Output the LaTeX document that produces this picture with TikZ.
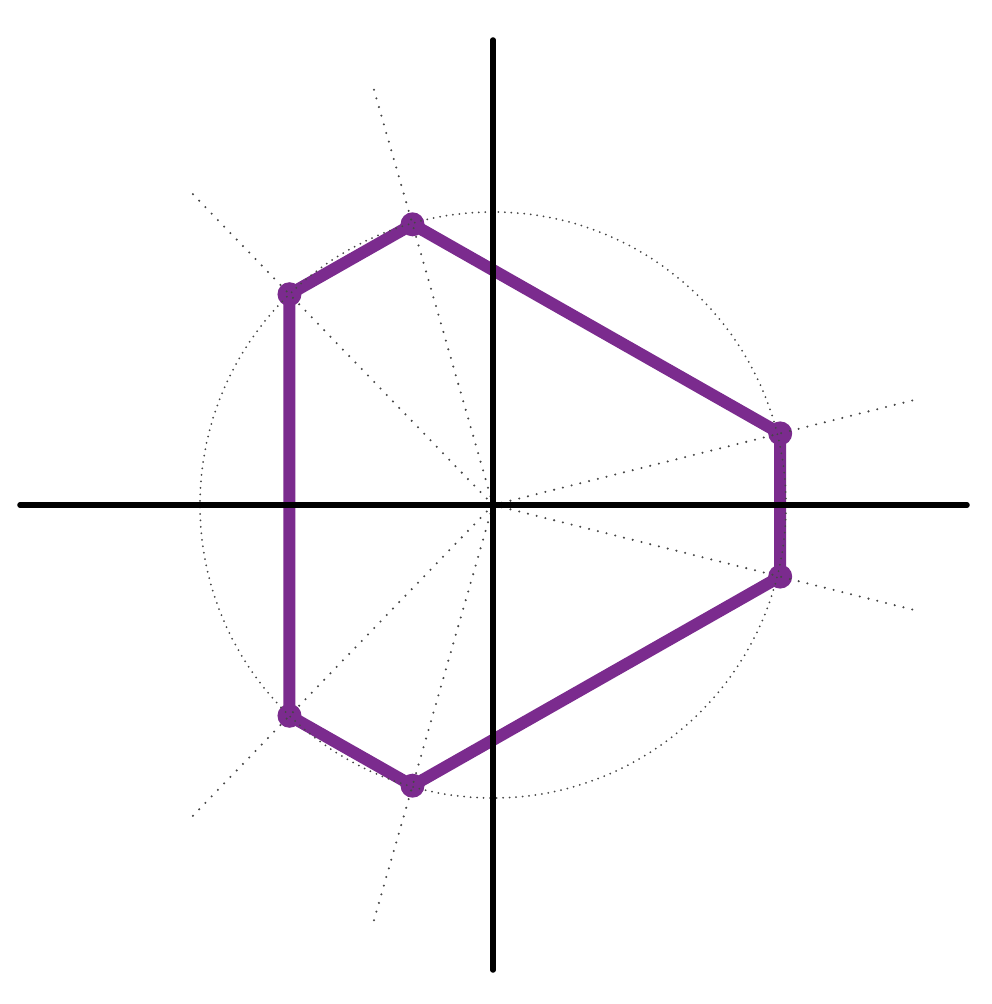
\documentclass[tikz,border=0pt]{standalone}
\usepackage{tikz}
\definecolor{hexpurple}{RGB}{123,43,142}
\definecolor{dotgray}{RGB}{70,70,70}
\tikzset{
  axisline/.style={line width=5.5pt, line cap=round, black},
  rayline/.style={line width=2.3pt, dotgray, line cap=round, dash pattern=on 0pt off 9pt},
  circline/.style={line width=2pt, dotgray, line cap=round, dash pattern=on 0pt off 6.5pt},
  hexline/.style={line width=12pt, hexpurple, line join=round},
  vertexdot/.style={circle, fill=hexpurple, inner sep=0pt, minimum size=24pt}
}
\begin{document}
\begin{tikzpicture}[x=1pt,y=1pt]
\useasboundingbox (-493,-499) rectangle (499,505);
\coordinate (O) at (0,0);
% hexagon vertices
\foreach \n/\a/\r in {v1/14/296, v2/106/292, v3/134/293, v4/226/293, v5/254/292, v6/346/296}{
  \coordinate (\n) at (\a:\r);
  \coordinate (r\n) at (\a:437);
}
\draw[hexline] (v1) -- (v2) -- (v3) -- (v4) -- (v5) -- (v6) -- cycle;
\foreach \n in {v1,v2,v3,v4,v5,v6}{
  \node[vertexdot] (d\n) at (\n) {};
}
% dotted circle
\draw[circline] (O) circle (293);
% dotted rays
\foreach \n in {v1,v2,v3,v4,v5,v6}{
  \draw[rayline] (O) -- (r\n);
}
% axes
\coordinate (xl) at (-473,0);
\coordinate (xr) at (474,0);
\coordinate (yt) at (0,465);
\coordinate (yb) at (0,-465);
\draw[axisline] (xl) -- (xr);
\draw[axisline] (yb) -- (yt);
\end{tikzpicture}
\end{document}
